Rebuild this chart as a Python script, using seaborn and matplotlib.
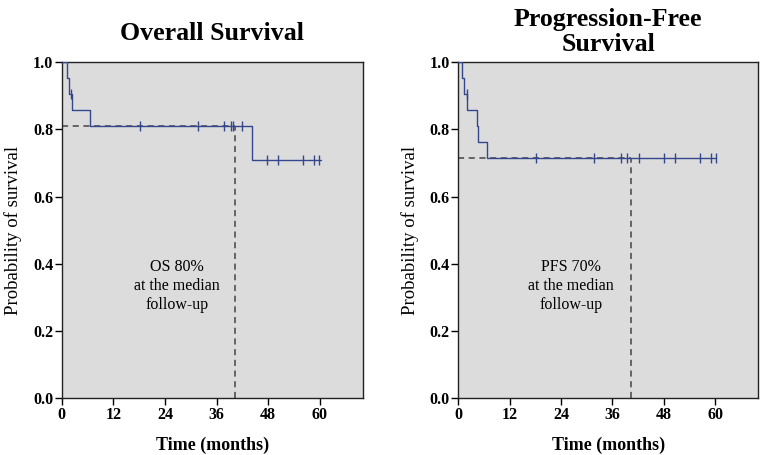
import matplotlib
matplotlib.use("Agg")
import matplotlib.pyplot as plt
import seaborn as sns

# Overall survival: step times (months) and survival probability
os_times = [0, 1.2, 1.6, 2.4, 6.5, 44.3, 60.2]
os_surv = [1.0, 0.952, 0.905, 0.857, 0.810, 0.708, 0.708]
os_cens_t = [2.1, 18.2, 31.7, 37.7, 39.3, 39.8, 41.9, 47.7, 50.3, 56.2, 58.6, 59.8]
os_cens_s = [0.905, 0.810, 0.810, 0.810, 0.810, 0.810, 0.810, 0.708, 0.708, 0.708, 0.708, 0.708]

# Progression-free survival
pfs_times = [0, 0.9, 1.3, 2.1, 4.3, 4.6, 6.8, 60.2]
pfs_surv = [1.0, 0.952, 0.905, 0.857, 0.810, 0.762, 0.714, 0.714]
pfs_cens_t = [2.0, 18.1, 31.7, 38.0, 39.5, 42.3, 48.1, 50.6, 56.5, 59.1, 60.1]
pfs_cens_s = [0.905] + [0.714] * 10

median_fu = 40.3
os_at_fu = 0.810
pfs_at_fu = 0.714

xticks = [0, 12, 24, 36, 48, 60]
yticks = [0.0, 0.2, 0.4, 0.6, 0.8, 1.0]

sns.set_style("ticks", {"axes.facecolor": "#dcdcdc", "axes.edgecolor": "#222222",
                        "text.color": "black", "axes.labelcolor": "black",
                        "xtick.color": "black", "ytick.color": "black"})
plt.rcParams["font.family"] = ["Liberation Serif", "DejaVu Serif"]

line_col = "#34468c"
dash_col = "#444444"

fig = plt.figure(figsize=(7.61, 4.55), dpi=100)
ax1 = fig.add_axes([0.0811, 0.1246, 0.3955, 0.739])
ax2 = fig.add_axes([0.6022, 0.1246, 0.3938, 0.739])

panels = [
    (ax1, os_times, os_surv, os_cens_t, os_cens_s, os_at_fu, "Overall Survival",
     "OS 80%\nat the median\nfollow-up", 26.8, 16),
    (ax2, pfs_times, pfs_surv, pfs_cens_t, pfs_cens_s, pfs_at_fu, "Progression-Free\nSurvival",
     "PFS 70%\nat the median\nfollow-up", 26.3, 8),
]

for ax, t, s, ct, cs, yfu, title, note, note_x, tpad in panels:
    # reference lines at median follow-up
    ax.plot([0, median_fu], [yfu, yfu], color=dash_col, lw=1.1, ls=(0, (4, 3)), zorder=1)
    ax.plot([median_fu, median_fu], [0, yfu], color=dash_col, lw=1.1, ls=(0, (4, 3)), zorder=1)

    sns.lineplot(x=t, y=s, ax=ax, drawstyle="steps-post", color=line_col,
                 linewidth=1.0, estimator=None, zorder=3)
    sns.scatterplot(x=ct, y=cs, ax=ax, marker="|", s=45, color=line_col,
                    linewidth=1.0, zorder=4)

    ax.set_xlim(0, 70)
    ax.set_ylim(0, 1.0)
    ax.set_xticks(xticks)
    ax.set_yticks(yticks)
    ax.set_yticklabels([f"{v:.1f}" for v in yticks])
    ax.tick_params(length=5, width=1, labelsize=11.5, pad=1)
    for lab in ax.get_xticklabels() + ax.get_yticklabels():
        lab.set_fontweight("bold")
    for sp in ax.spines.values():
        sp.set_visible(True)
        sp.set_linewidth(1.0)

    ax.set_xlabel("Time (months)", fontsize=13, fontweight="bold", labelpad=10)
    ax.set_ylabel("Probability of survival", fontsize=13.5, labelpad=8)
    ax.set_title(title, fontsize=18.6, fontweight="bold", pad=tpad, linespacing=1.1)
    ax.text(note_x, 0.335, note, ha="center", va="center", fontsize=11.5, linespacing=1.25)

fig.savefig("out.png", dpi=100)
